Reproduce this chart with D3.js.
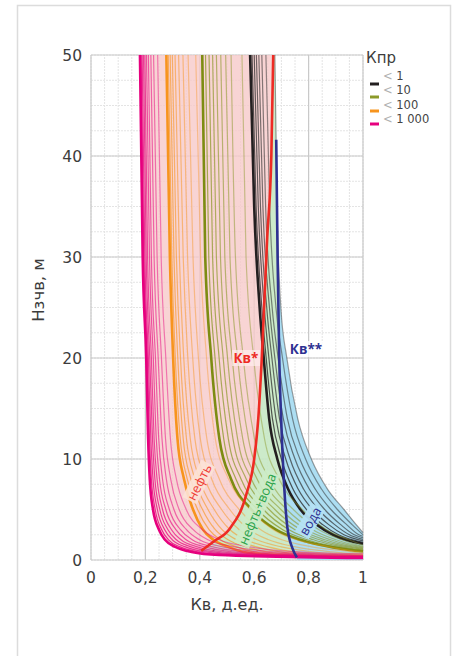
<!DOCTYPE html>
<html>
<head>
<meta charset="utf-8">
<script src="https://cdn.jsdelivr.net/npm/d3@7"></script>
<style>
  html, body { margin: 0; padding: 0; background: #fff; }
  svg { display: block; font-family: "DejaVu Sans", "Noto Sans", sans-serif; }
</style>
</head>
<body>
<svg id="chart" width="459" height="656"></svg>
<script>
// ---- data: Кв (д.ед.) at given heights above free water level (м) ----
// Кпр < 1 000
const pinkLevels = [50, 30, 20, 12, 8, 5, 3, 2, 1.3, 0.8, 0.5];
const pinkCurves = [
  [0.180, 0.190, 0.203, 0.210, 0.216, 0.228, 0.250, 0.272, 0.310, 0.370, 0.470],
  [0.184, 0.194, 0.207, 0.215, 0.222, 0.236, 0.260, 0.285, 0.328, 0.395, 0.510],
  [0.188, 0.198, 0.211, 0.220, 0.228, 0.244, 0.271, 0.299, 0.347, 0.422, 0.552],
  [0.193, 0.203, 0.216, 0.226, 0.235, 0.253, 0.283, 0.314, 0.368, 0.452, 0.598],
  [0.198, 0.208, 0.222, 0.232, 0.243, 0.263, 0.296, 0.331, 0.391, 0.485, 0.650],
  [0.204, 0.215, 0.229, 0.240, 0.252, 0.275, 0.312, 0.350, 0.418, 0.522, 0.708],
  [0.211, 0.222, 0.237, 0.249, 0.263, 0.288, 0.329, 0.372, 0.448, 0.565, 0.775],
  [0.220, 0.232, 0.247, 0.261, 0.277, 0.305, 0.351, 0.399, 0.485, 0.618, 0.860],
  [0.230, 0.243, 0.259, 0.274, 0.293, 0.324, 0.376, 0.430, 0.528, 0.680, 0.950],
  [0.245, 0.258, 0.275, 0.292, 0.314, 0.350, 0.410, 0.472, 0.585, 0.760]
];
const pinkEnds = [0.2, 0.22, 0.25, 0.28, 0.3, 0.33, 0.36, 0.4, 0.45, 0.6];

// Кпр < 100
const orangeLevels = [50, 30, 20, 12, 8, 5, 3, 2, 1.3, 0.8, 0.5];
const orangeCurves = [
  [0.277, 0.290, 0.302, 0.318, 0.342, 0.375, 0.412, 0.450, 0.505, 0.560, 0.660],
  [0.284, 0.297, 0.310, 0.328, 0.354, 0.392, 0.434, 0.476, 0.536, 0.600, 0.715],
  [0.291, 0.305, 0.319, 0.339, 0.367, 0.410, 0.457, 0.504, 0.570, 0.645, 0.775],
  [0.299, 0.314, 0.329, 0.351, 0.382, 0.430, 0.482, 0.535, 0.608, 0.695, 0.840],
  [0.309, 0.325, 0.341, 0.365, 0.399, 0.453, 0.511, 0.570, 0.651, 0.751, 0.915],
  [0.322, 0.339, 0.356, 0.382, 0.420, 0.480, 0.545, 0.610, 0.700, 0.815],
  [0.338, 0.355, 0.374, 0.402, 0.444, 0.510, 0.582, 0.653, 0.752, 0.885],
  [0.357, 0.375, 0.395, 0.426, 0.472, 0.545, 0.624, 0.702, 0.812, 0.958],
  [0.385, 0.403, 0.425, 0.457, 0.506, 0.585, 0.670, 0.755, 0.875]
];
const orangeEnds = [0.3, 0.33, 0.36, 0.4, 0.43, 0.5, 0.55, 0.62, 0.75];

// Кпр < 10
const oliveLevels = [50, 30, 20, 12, 8, 5, 3, 2, 1.5, 1];
const oliveCurves = [
  [0.409, 0.420, 0.442, 0.472, 0.515, 0.590, 0.680, 0.770, 0.840, 0.950],
  [0.421, 0.433, 0.456, 0.488, 0.533, 0.612, 0.705, 0.795, 0.865, 0.975],
  [0.434, 0.447, 0.471, 0.505, 0.552, 0.634, 0.728, 0.818, 0.888],
  [0.447, 0.461, 0.486, 0.522, 0.571, 0.655, 0.750, 0.840, 0.908],
  [0.461, 0.476, 0.502, 0.539, 0.590, 0.676, 0.771, 0.860, 0.927],
  [0.477, 0.492, 0.519, 0.558, 0.611, 0.698, 0.793, 0.881, 0.946],
  [0.495, 0.511, 0.539, 0.579, 0.633, 0.720, 0.815, 0.901, 0.963],
  [0.515, 0.531, 0.560, 0.601, 0.656, 0.744, 0.838, 0.922, 0.979],
  [0.555, 0.570, 0.598, 0.638, 0.692, 0.777, 0.866, 0.948]
];
const oliveEnds = [0.85, 0.9, 0.97, 1.05, 1.12, 1.2, 1.28, 1.35, 1.45];

// Кпр < 1
const blackLevels = [50, 35, 25, 20, 14, 10, 7, 5, 3.5, 2.5];
const blackCurves = [
  [0.585, 0.600, 0.620, 0.635, 0.655, 0.685, 0.725, 0.770, 0.830, 0.890],
  [0.592, 0.607, 0.628, 0.644, 0.667, 0.700, 0.743, 0.792, 0.852, 0.910],
  [0.600, 0.615, 0.637, 0.654, 0.680, 0.716, 0.762, 0.814, 0.874, 0.930],
  [0.608, 0.623, 0.646, 0.665, 0.693, 0.732, 0.782, 0.836, 0.896, 0.950],
  [0.617, 0.632, 0.656, 0.676, 0.707, 0.750, 0.803, 0.859, 0.918, 0.968],
  [0.628, 0.642, 0.666, 0.688, 0.722, 0.768, 0.825, 0.882, 0.940, 0.985],
  [0.643, 0.657, 0.680, 0.704, 0.741, 0.789, 0.848, 0.906, 0.960],
  [0.676, 0.684, 0.698, 0.720, 0.760, 0.810, 0.870, 0.930, 0.975]
];
const blackEnds = [1.6, 1.75, 1.9, 2.05, 2.2, 2.35, 2.5, 2.7];

// boundary lines Кв* and Кв** : [Кв, Нзчв]
const kvStar = [[0.405, 0.9], [0.45, 1.8], [0.51, 3.1], [0.57, 6.4], [0.60, 10], [0.615, 14],
                [0.628, 20], [0.648, 32], [0.663, 40], [0.670, 50]];
const kvStar2 = [[0.681, 41.6], [0.686, 30], [0.692, 20], [0.699, 14], [0.710, 7.4],
                 [0.722, 3.2], [0.740, 1.2], [0.757, 0.25]];

const xTicks = [0, 0.2, 0.4, 0.6, 0.8, 1];
const xTickLabels = ["0", "0,2", "0,4", "0,6", "0,8", "1"];
const yTicks = [0, 10, 20, 30, 40, 50];
const legendLabels = ["1", "10", "100", "1 000"];

// ---- layout ----
const svg = d3.select("#chart");
const x = d3.scaleLinear().domain([0, 1]).range([91, 363]);
const y = d3.scaleLinear().domain([0, 50]).range([560, 55]);

const groups = [
  { levels: blackLevels, curves: blackCurves, ends: blackEnds, color: "#231f20", thin: "#2b2b2b", op: [0.45, 0.85] },
  { levels: oliveLevels, curves: oliveCurves, ends: oliveEnds, color: "#7d8c12", thin: "#8a9626", op: [0.45, 0.8] },
  { levels: orangeLevels, curves: orangeCurves, ends: orangeEnds, color: "#f7941d", thin: "#f7941d", op: [0.4, 0.7] },
  { levels: pinkLevels, curves: pinkCurves, ends: pinkEnds, color: "#e6007e", thin: "#e6007e", op: [0.45, 0.85] }
];
const pts = (g, i) => {
  const c = g.curves[i];
  const p = c.map((kv, k) => [kv, g.levels[k]]);
  p.push([1, g.ends[i]]);
  return p;
};

// outer frame
svg.append("rect").attr("x", 17.5).attr("y", 5.5).attr("width", 433).attr("height", 700)
  .attr("fill", "none").attr("stroke", "#dcdcdc").attr("stroke-width", 1.5);

// grid
const grid = svg.append("g");
grid.selectAll(".vx").data(d3.range(0, 1.0001, 0.05)).join("line")
  .attr("x1", d => x(d)).attr("x2", d => x(d)).attr("y1", y(0)).attr("y2", y(50))
  .attr("stroke", "#e4e4e4").attr("stroke-width", 1).attr("stroke-dasharray", "2,1");
grid.selectAll(".hy").data(d3.range(0, 50.001, 2.5)).join("line")
  .attr("y1", d => y(d)).attr("y2", d => y(d)).attr("x1", x(0)).attr("x2", x(1))
  .attr("stroke", "#e4e4e4").attr("stroke-width", 1).attr("stroke-dasharray", "2,1");
grid.selectAll(".mx").data(xTicks).join("line")
  .attr("x1", d => x(d)).attr("x2", d => x(d)).attr("y1", y(0)).attr("y2", y(50))
  .attr("stroke", "#c9c9c9").attr("stroke-width", 1.2);
grid.selectAll(".my").data(yTicks).join("line")
  .attr("y1", d => y(d)).attr("y2", d => y(d)).attr("x1", x(0)).attr("x2", x(1))
  .attr("stroke", "#c9c9c9").attr("stroke-width", 1.2);

const line = d3.line().x(d => x(d[0])).y(d => y(d[1])).curve(d3.curveMonotoneX);
const poly = d3.line().x(d => x(d[0])).y(d => y(d[1])).curve(d3.curveLinear);

// ---- zone fills ----
// oil zone: from the Кпр<1000 edge curve to Кв*
const pinkEdge = pts(groups[3], 0).filter(d => d[0] <= 0.39);
svg.append("path").attr("d", line(pinkEdge.concat([[0.405, 0.9]])) + "L" + kvStar.slice(1).map(d => x(d[0]) + "," + y(d[1])).join("L") + "Z")
  .attr("fill", "#f6c9c9").attr("opacity", 0.8);

// oil + water zone between Кв* and Кв**
const outer = pts(groups[0], groups[0].curves.length - 1);
const mixPts = kvStar.concat([[outer[0][0], 50], [0.679, 45]], kvStar2, [[0.757, 0.3], [0.5, 0.45]]);
svg.append("path").attr("d", poly(mixPts) + "Z").attr("fill", "#c6e8c4").attr("opacity", 0.9);

// water zone right of Кв** and under the outer Кпр<1 curve
const defs = svg.append("defs");
defs.append("clipPath").attr("id", "underOuter").append("path")
  .attr("d", line(outer) + "L" + x(1) + "," + y(0) + "L" + x(outer[0][0]) + "," + y(0) + "Z");
const waterPts = kvStar2.concat([[0.757, 0], [1, 0], [1, 41.6]]);
svg.append("path").attr("d", poly(waterPts) + "Z").attr("clip-path", "url(#underOuter)")
  .attr("fill", "#a9dcf1").attr("opacity", 0.95);

// ---- curves ----
const curvesG = svg.append("g").attr("fill", "none");
groups.forEach(g => {
  const n = g.curves.length;
  for (let i = n - 1; i >= 1; i--) {
    curvesG.append("path").attr("d", line(pts(g, i)))
      .attr("stroke", g.thin).attr("stroke-width", 1.2)
      .attr("opacity", g.op[1] - (g.op[1] - g.op[0]) * (i / (n - 1)));
  }
  curvesG.append("path").attr("d", line(pts(g, 0)))
    .attr("stroke", g.color).attr("stroke-width", 2.6);
});

// Кв* and Кв**
svg.append("path").attr("d", line(kvStar)).attr("fill", "none").attr("stroke", "#ee2b24").attr("stroke-width", 2.6);
svg.append("path").attr("d", line(kvStar2)).attr("fill", "none").attr("stroke", "#2e3192").attr("stroke-width", 2.6);

// ---- zone labels ----
function boxedLabel(text, cx, cy, angle, color, bg, size, weight) {
  const g = svg.append("g").attr("transform", `translate(${cx},${cy}) rotate(${angle})`);
  const t = g.append("text").attr("text-anchor", "middle").attr("dominant-baseline", "central")
    .attr("font-family", "Open Sans, sans-serif")
    .attr("font-size", size).attr("font-weight", weight).attr("fill", color).text(text);
  const b = t.node().getBBox();
  g.insert("rect", "text").attr("x", b.x - 1.5).attr("y", b.y + 1).attr("width", b.width + 3).attr("height", b.height - 2)
    .attr("fill", bg);
}
boxedLabel("нефть", 199, 482, -63, "#ef3b35", "rgba(252,226,214,0.9)", 13, 400);
boxedLabel("нефть+вода", 257, 509, -67, "#2aa24a", "rgba(205,236,200,0.9)", 13, 400);
boxedLabel("вода", 310, 521, -60, "#2e3192", "rgba(180,226,244,0.95)", 13, 400);
boxedLabel("Кв*", 246, 358, 0, "#ee2b24", "rgba(255,238,238,0.7)", 13.5, 700);
boxedLabel("Кв**", 306, 349, 0, "#2e3192", "rgba(255,255,255,0.8)", 13.5, 700);

// ---- axes ----
const txt = "#3c3c3c";
svg.append("g").selectAll("text").data(xTicks).join("text")
  .attr("x", d => x(d)).attr("y", 578).attr("text-anchor", "middle").attr("dominant-baseline", "central")
  .attr("font-size", 15.5).attr("fill", txt).text((d, i) => xTickLabels[i]);
svg.append("g").selectAll("text").data(yTicks).join("text")
  .attr("x", 82).attr("y", d => y(d) + 1).attr("text-anchor", "end").attr("dominant-baseline", "central")
  .attr("font-size", 15.5).attr("fill", txt).text(d => d);
svg.append("text").attr("x", 227).attr("y", 604).attr("text-anchor", "middle").attr("dominant-baseline", "central")
  .attr("font-size", 16).attr("fill", txt).text("Кв, д.ед.");
svg.append("text").attr("transform", "translate(38,290) rotate(-90)").attr("text-anchor", "middle")
  .attr("dominant-baseline", "central").attr("font-size", 16.5).attr("fill", txt).text("Нзчв, м");

// ---- legend ----
const leg = svg.append("g");
leg.append("text").attr("x", 366).attr("y", 58).attr("dominant-baseline", "central")
  .attr("font-size", 15).attr("fill", txt).text("Кпр");
const legColors = ["#231f20", "#8c9a2a", "#f7941d", "#e6007e"];
const swY = [84, 97, 111, 124];
const lbY = [75.5, 90, 104.5, 119];
legendLabels.forEach((l, i) => {
  leg.append("line").attr("x1", 370).attr("x2", 379).attr("y1", swY[i]).attr("y2", swY[i])
    .attr("stroke", legColors[i]).attr("stroke-width", 3);
  const t = leg.append("text").attr("x", 383).attr("y", lbY[i]).attr("dominant-baseline", "central")
    .attr("font-size", 11.5);
  t.append("tspan").attr("fill", "#b0b0b0").text("< ");
  t.append("tspan").attr("fill", "#444").text(l);
});
</script>
</body>
</html>
